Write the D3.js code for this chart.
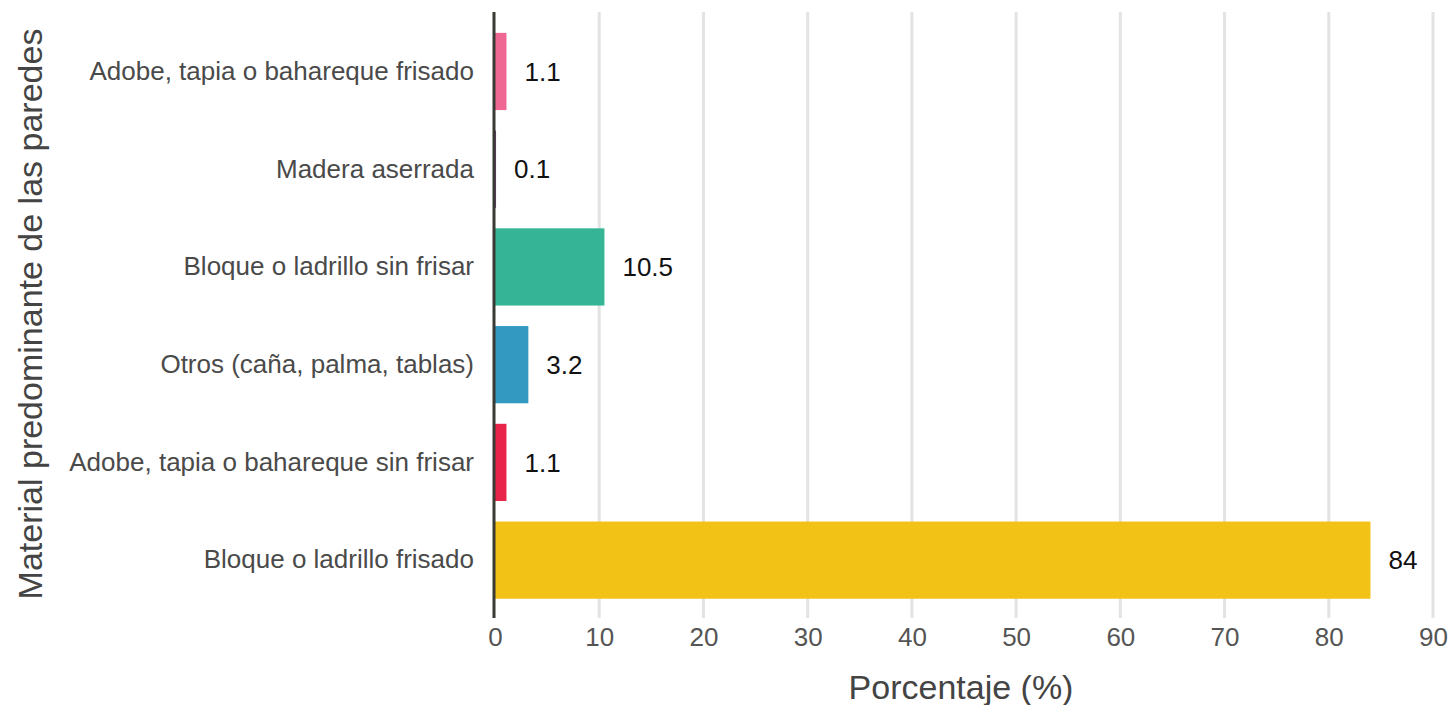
<!DOCTYPE html>
<html><head><meta charset="utf-8">
<script src="https://cdn.jsdelivr.net/npm/d3@7"></script>
<style>body{margin:0;background:#fff;}svg{display:block;font-family:"Liberation Sans",Arial,sans-serif;}</style>
</head><body>
<svg id="c" width="1448" height="705"></svg>
<script>
const categories = ["Adobe, tapia o bahareque frisado","Madera aserrada","Bloque o ladrillo sin frisar","Otros (caña, palma, tablas)","Adobe, tapia o bahareque sin frisar","Bloque o ladrillo frisado"];
const values = [1.1, 0.1, 10.5, 3.2, 1.1, 84];
const colors = ["#ee6893","#6e3f7a","#36b596","#3399c1","#e8244b","#f2c216"];
const xTicks = [0,10,20,30,40,50,60,70,80,90];
const xTitle = "Porcentaje (%)";
const yTitle = "Material predominante de las paredes";

(function(){
const FF = "Liberation Sans, Arial, sans-serif";
const svg = d3.select("#c");
const mLeft = 495, mRight = 1433, mTop = 22.6, mBottom = 609;
const x = d3.scaleLinear().domain([0,90]).range([mLeft,mRight]);
const y = d3.scaleBand().domain(categories).range([mTop,mBottom]).paddingInner(0.21).paddingOuter(0.105);

// gridlines
svg.append("g").selectAll("line").data(xTicks.slice(1)).join("line")
  .attr("x1",d=>x(d)).attr("x2",d=>x(d)).attr("y1",12).attr("y2",618)
  .attr("stroke","#e3e3e3").attr("stroke-width",3);

// bars
svg.append("g").selectAll("rect").data(categories).join("rect")
  .attr("x",x(0)).attr("y",d=>y(d)).attr("height",y.bandwidth())
  .attr("width",(d,i)=>x(values[i])-x(0)).attr("fill",(d,i)=>colors[i]);

// value labels
svg.append("g").selectAll("text").data(categories).join("text")
  .attr("x",(d,i)=>x(values[i])+18).attr("y",d=>y(d)+y.bandwidth()/2)
  .attr("dy","0.35em").attr("font-size",26).attr("fill","#111").attr("font-family",FF)
  .text((d,i)=>values[i]);

// x axis
const xa = svg.append("g").attr("transform",`translate(0,618)`)
  .call(d3.axisBottom(x).tickValues(xTicks).tickSize(0).tickPadding(10));
xa.select(".domain").remove();
xa.selectAll("text").attr("font-size",26).attr("fill","#555").attr("font-family",FF);

// y axis
const ya = svg.append("g").attr("transform",`translate(${mLeft-1},0)`)
  .call(d3.axisLeft(y).tickSize(0).tickPadding(20));
ya.select(".domain").attr("stroke","#3a3a35").attr("stroke-width",3).attr("d","M0,12V618");
ya.selectAll("text").attr("font-size",26).attr("fill","#4a4a4a").attr("font-family",FF);

// titles
svg.append("text").attr("x",961).attr("y",699).attr("text-anchor","middle")
  .attr("font-size",34).attr("fill","#444").attr("font-family",FF).text(xTitle);
svg.append("text").attr("transform",`translate(42,314) rotate(-90)`)
  .attr("text-anchor","middle").attr("font-size",34).attr("fill","#444").attr("font-family",FF).text(yTitle);
})();
</script>
</body></html>
